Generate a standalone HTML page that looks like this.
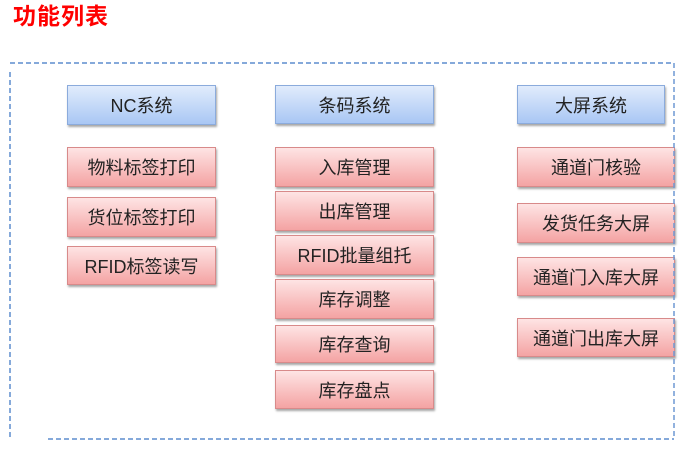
<!DOCTYPE html>
<html><head><meta charset="utf-8"><style>
*{margin:0;padding:0;box-sizing:border-box}
body{width:688px;height:451px;background:#fff;position:relative;overflow:hidden;font-family:"Liberation Sans","Noto Sans CJK SC",sans-serif}
.title{position:absolute;left:13px;top:1px;font-size:23px;font-weight:bold;color:#f00;letter-spacing:1px;line-height:30px}
.b{position:absolute;display:flex;align-items:center;justify-content:center;font-size:18px;color:#222;box-shadow:1px 2px 2px rgba(0,0,0,0.35);white-space:nowrap}
.blue{background:linear-gradient(#e1ecfc,#a9c7f4);border:1px solid #8babdc}
.red{background:linear-gradient(#fee4e4,#f4a3a3);border:1px solid #d88a8a}
svg{position:absolute;left:0;top:0}
</style></head><body>
<div class="title">功能列表</div>
<svg width="688" height="451">
<g stroke="#85a9da" stroke-width="2" stroke-dasharray="5,3" fill="none">
<line x1="10" y1="63" x2="674" y2="63"/>
<line x1="10" y1="72" x2="10" y2="437"/>
<line x1="48" y1="439" x2="674" y2="439"/>
</g>
</svg>
<div class="b blue" style="left:67px;top:85px;width:149px;height:40px">NC系统</div>
<div class="b red" style="left:67px;top:147px;width:149px;height:40px">物料标签打印</div>
<div class="b red" style="left:67px;top:197px;width:149px;height:40px">货位标签打印</div>
<div class="b red" style="left:67px;top:246px;width:149px;height:39px">RFID标签读写</div>

<div class="b blue" style="left:275px;top:85px;width:159px;height:39px">条码系统</div>
<div class="b red" style="left:275px;top:147px;width:159px;height:40px">入库管理</div>
<div class="b red" style="left:275px;top:191px;width:159px;height:40px">出库管理</div>
<div class="b red" style="left:275px;top:235px;width:159px;height:40px">RFID批量组托</div>
<div class="b red" style="left:275px;top:279px;width:159px;height:40px">库存调整</div>
<div class="b red" style="left:275px;top:325px;width:159px;height:38px">库存查询</div>
<div class="b red" style="left:275px;top:370px;width:159px;height:39px">库存盘点</div>

<div class="b blue" style="left:517px;top:85px;width:148px;height:39px">大屏系统</div>
<div class="b red" style="left:517px;top:147px;width:158px;height:40px">通道门核验</div>
<div class="b red" style="left:517px;top:203px;width:158px;height:40px">发货任务大屏</div>
<div class="b red" style="left:517px;top:257px;width:158px;height:39px">通道门入库大屏</div>
<div class="b red" style="left:517px;top:318px;width:158px;height:39px">通道门出库大屏</div>
<svg width="688" height="451" style="pointer-events:none">
<line x1="674" y1="63" x2="674" y2="439" stroke="#6f99d3" stroke-width="1.5" stroke-dasharray="5,3"/>
</svg>
</body></html>
